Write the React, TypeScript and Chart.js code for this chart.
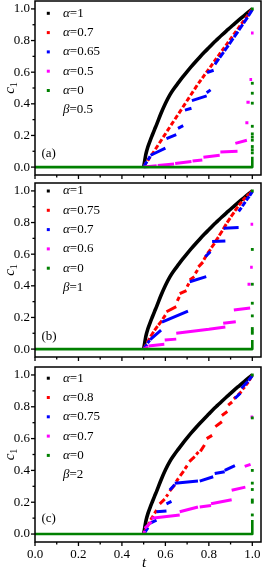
import React, { useEffect, useRef } from 'react';
import { Chart, registerables } from 'chart.js';
Chart.register(...registerables);

// ---------- data ----------
const blackT = [0.500,0.505,0.510,0.520,0.530,0.540,0.550,0.560,0.580,0.600,0.620,0.640,0.660,0.680,0.700,0.720,0.740,0.760,0.780,0.800,0.820,0.840,0.860,0.880,0.900,0.920,0.940,0.960,0.980,1.000];
const blackC = [0.000,0.040,0.080,0.130,0.168,0.203,0.237,0.270,0.340,0.402,0.455,0.497,0.534,0.570,0.604,0.637,0.668,0.698,0.727,0.755,0.783,0.809,0.835,0.860,0.884,0.909,0.932,0.955,0.978,1.000];

// dashes: [t1, c1, t2, c2]
const redA = [
  [0.500,0.000,0.512,0.030],[0.518,0.040,0.530,0.065],[0.536,0.075,0.548,0.100],[0.554,0.113,0.566,0.138],
  [0.572,0.151,0.584,0.176],[0.590,0.189,0.602,0.214],[0.608,0.227,0.620,0.252],[0.626,0.265,0.638,0.290],
  [0.644,0.302,0.656,0.328],[0.662,0.340,0.674,0.365],[0.680,0.378,0.692,0.403],[0.698,0.416,0.710,0.441],
  [0.716,0.454,0.728,0.479],[0.734,0.491,0.746,0.517],[0.752,0.529,0.764,0.552],[0.770,0.563,0.782,0.586],
  [0.788,0.597,0.800,0.620],[0.806,0.631,0.818,0.654],[0.824,0.666,0.836,0.688],[0.842,0.700,0.854,0.723],
  [0.860,0.734,0.872,0.757],[0.878,0.768,0.890,0.791],[0.896,0.802,0.908,0.825],[0.914,0.837,0.926,0.859],
  [0.932,0.871,0.944,0.894],[0.950,0.905,0.962,0.928],[0.968,0.939,0.980,0.962],[0.984,0.970,1.000,1.000],
];
const blueA = [
  [0.500,0.000,0.515,0.035],[0.520,0.045,0.530,0.068],[0.532,0.075,0.600,0.120],[0.605,0.180,0.650,0.205],
  [0.658,0.245,0.682,0.262],[0.690,0.360,0.720,0.372],[0.722,0.420,0.790,0.450],[0.790,0.470,0.808,0.488],
  [0.792,0.598,0.822,0.612],[0.828,0.650,0.846,0.685],[0.850,0.692,0.868,0.727],[0.872,0.735,0.890,0.770],
  [0.894,0.778,0.912,0.813],[0.916,0.822,0.934,0.857],[0.938,0.866,0.956,0.902],[0.960,0.910,0.978,0.946],
  [0.982,0.955,1.000,0.995],
];
const magentaA = [
  [0.500,0.000,0.560,0.008],[0.565,0.010,0.640,0.020],[0.645,0.022,0.720,0.035],[0.725,0.038,0.770,0.045],
  [0.775,0.062,0.850,0.075],[0.853,0.096,0.932,0.100],[0.922,0.150,0.975,0.170],[0.968,0.280,0.982,0.280],
  [0.973,0.410,0.988,0.410],[0.987,0.553,0.999,0.553],[0.994,0.847,1.006,0.847],
];
const greenLineT = [0, 1, 1];
const greenLineA = [0, 0, 0.065];
const greenDotsA = [0.09,0.11,0.13,0.17,0.19,0.21,0.258,0.404,0.467,0.53,1.0];
const alphasA = ['1','0.7','0.65','0.5','0'];
const betaA = '0.5';

const redB = [
  [0.500,0.000,0.512,0.030],[0.516,0.040,0.528,0.068],[0.532,0.080,0.546,0.110],[0.550,0.118,0.564,0.145],
  [0.568,0.152,0.584,0.180],[0.588,0.190,0.600,0.215],[0.605,0.236,0.650,0.268],[0.655,0.305,0.664,0.330],
  [0.666,0.350,0.697,0.370],[0.700,0.395,0.708,0.415],[0.712,0.437,0.733,0.458],[0.738,0.479,0.748,0.500],
  [0.752,0.520,0.773,0.550],[0.777,0.565,0.790,0.595],[0.794,0.605,0.808,0.630],[0.812,0.642,0.826,0.668],
  [0.830,0.680,0.844,0.708],[0.848,0.718,0.862,0.748],[0.866,0.758,0.880,0.790],[0.884,0.800,0.898,0.828],
  [0.902,0.838,0.916,0.865],[0.920,0.874,0.934,0.900],[0.938,0.910,0.952,0.932],[0.956,0.940,0.970,0.960],
  [0.974,0.966,0.986,0.982],[0.988,0.985,1.000,1.000],
];
const blueB = [
  [0.500,0.000,0.515,0.030],[0.518,0.038,0.528,0.055],[0.530,0.060,0.580,0.120],[0.584,0.170,0.704,0.240],
  [0.712,0.426,0.788,0.458],[0.784,0.584,0.807,0.616],[0.815,0.680,0.876,0.684],[0.868,0.764,0.937,0.768],
  [0.937,0.870,0.950,0.895],[0.954,0.903,0.968,0.930],[0.972,0.940,0.986,0.965],[0.988,0.970,1.000,0.995],
];
const magentaB = [
  [0.500,0.000,0.520,0.015],[0.522,0.020,0.595,0.030],[0.597,0.057,0.650,0.063],[0.650,0.100,0.800,0.125],
  [0.800,0.126,0.876,0.140],[0.866,0.163,0.924,0.173],[0.915,0.247,0.990,0.260],[0.978,0.410,0.992,0.410],
  [0.990,0.517,1.002,0.517],[0.992,0.790,1.004,0.790],
];
const greenLineB = [0, 0, 0.057];
const greenDotsB = [0.10,0.115,0.13,0.21,0.29,0.41,0.63,1.0];
const alphasB = ['1','0.75','0.7','0.6','0'];
const betaB = '1';

const redC = [
  [0.500,0.000,0.512,0.035],[0.516,0.045,0.528,0.075],[0.532,0.090,0.544,0.115],[0.550,0.130,0.560,0.150],
  [0.574,0.190,0.597,0.220],[0.604,0.235,0.612,0.250],[0.620,0.270,0.643,0.310],[0.650,0.330,0.660,0.350],
  [0.668,0.365,0.684,0.395],[0.690,0.410,0.700,0.430],[0.710,0.455,0.735,0.486],[0.742,0.500,0.752,0.515],
  [0.761,0.520,0.780,0.560],[0.790,0.600,0.815,0.620],[0.830,0.675,0.860,0.706],[0.860,0.745,0.885,0.770],
  [0.889,0.810,0.907,0.830],[0.915,0.850,0.925,0.862],[0.934,0.874,0.950,0.895],[0.955,0.910,0.965,0.925],
  [0.970,0.935,0.982,0.955],[0.986,0.965,1.000,1.000],
];
const blueC = [
  [0.500,0.000,0.520,0.040],[0.528,0.067,0.559,0.088],[0.559,0.140,0.605,0.145],[0.605,0.190,0.628,0.205],
  [0.620,0.277,0.643,0.310],[0.643,0.320,0.750,0.333],[0.758,0.333,0.820,0.360],[0.827,0.380,0.873,0.392],
  [0.873,0.400,0.920,0.430],[0.920,0.853,0.945,0.885],[0.950,0.916,0.980,0.960],[0.982,0.965,1.000,0.995],
];
const magentaC = [
  [0.500,0.000,0.505,0.020],[0.505,0.036,0.536,0.077],[0.536,0.099,0.666,0.120],[0.666,0.140,0.750,0.170],
  [0.758,0.170,0.810,0.180],[0.810,0.190,0.905,0.215],[0.905,0.275,0.968,0.295],[0.965,0.425,0.992,0.438],
  [0.992,0.735,1.004,0.735],
];
const greenLineC = [0, 0, 0.088];
const greenDotsC = [0.12,0.20,0.214,0.28,0.32,0.40,0.73,1.0];
const alphasC = ['1','0.8','0.75','0.7','0'];
const betaC = '2';

const majorTicks = [0, 0.2, 0.4, 0.6, 0.8, 1.0];
const minorTicks = [0.1, 0.3, 0.5, 0.7, 0.9];
const tags = ['(a)', '(b)', '(c)'];

// ---------- styling ----------
const COLORS = { black: '#000000', red: '#ff0000', blue: '#0000ff', magenta: '#ff00ff', green: '#008000' };
const SERIF = "'Liberation Serif', 'Times New Roman', 'DejaVu Serif', serif";

const panels = [
  { tag: tags[0], red: redA, blue: blueA, magenta: magentaA, gLine: greenLineA, gDots: greenDotsA, alphas: alphasA, beta: betaA,
    top: 0, height: 182, xAxisH: 7, showX: false, legendDy: 12.3, tagDy: -14 },
  { tag: tags[1], red: redB, blue: blueB, magenta: magentaB, gLine: greenLineB, gDots: greenDotsB, alphas: alphasB, beta: betaB,
    top: 182, height: 182, xAxisH: 7, showX: false, legendDy: 8, tagDy: -12.5 },
  { tag: tags[2], red: redC, blue: blueC, magenta: magentaC, gLine: greenLineC, gDots: greenDotsC, alphas: alphasC, beta: betaC,
    top: 366, height: 202, xAxisH: 26, showX: true, legendDy: 11.2, tagDy: -15 },
];

function segPoints(segs: number[][]) {
  const pts: any[] = [];
  segs.forEach(([t1, c1, t2, c2]) => {
    pts.push({ x: t1, y: c1 }, { x: t2, y: c2 }, { x: t2, y: null });
  });
  return pts;
}

function makeDecor(p: any) {
  return {
    id: 'decor',
    afterDatasetsDraw(chart: any) {
      const { ctx, chartArea: a, scales } = chart;
      const x = scales.x, y = scales.y;
      ctx.save();
      ctx.strokeStyle = '#000';
      ctx.lineWidth = 1.5;
      ctx.strokeRect(a.left, a.top, a.right - a.left, a.bottom - a.top);
      ctx.lineWidth = 1.3;
      const line = (x1: number, y1: number, x2: number, y2: number) => {
        ctx.beginPath(); ctx.moveTo(x1, y1); ctx.lineTo(x2, y2); ctx.stroke();
      };
      majorTicks.forEach((v) => {
        const px = x.getPixelForValue(v);
        line(px, a.bottom, px, a.bottom + 4);
        const py = y.getPixelForValue(v);
        line(a.left - 4, py, a.left, py);
      });
      minorTicks.forEach((v) => {
        const px = x.getPixelForValue(v);
        line(px, a.bottom, px, a.bottom + 2.5);
        const py = y.getPixelForValue(v);
        line(a.left - 2.5, py, a.left, py);
      });
      ctx.restore();
    },
    afterDraw(chart: any) {
      const { ctx, chartArea: a, scales } = chart;
      const y = scales.y;
      ctx.save();
      ctx.fillStyle = '#000';
      ctx.textBaseline = 'middle';
      const cols = [COLORS.black, COLORS.red, COLORS.blue, COLORS.magenta, COLORS.green];
      const step = 19.3;
      const mx = a.left + 13.3;
      const tx = a.left + 28;
      p.alphas.forEach((al: string, i: number) => {
        const ry = a.top + p.legendDy + i * step;
        ctx.fillStyle = cols[i];
        ctx.fillRect(mx - 1.5, ry - 1.5, 3, 3);
        ctx.fillStyle = '#000';
        ctx.font = `italic 13px ${SERIF}`;
        ctx.textAlign = 'left';
        ctx.fillText('α', tx, ry);
        const w = ctx.measureText('α').width;
        ctx.font = `13px ${SERIF}`;
        ctx.fillText('=' + al, tx + w, ry);
      });
      const by = a.top + p.legendDy + 5 * step;
      ctx.font = `italic 13px ${SERIF}`;
      ctx.fillText('β', tx, by);
      const bw = ctx.measureText('β').width;
      ctx.font = `13px ${SERIF}`;
      ctx.fillText('=' + p.beta, tx + bw, by);
      // panel tag
      ctx.font = `13px ${SERIF}`;
      ctx.fillText(p.tag, a.left + 6.5, y.getPixelForValue(0) + p.tagDy);
      // y title c1
      ctx.save();
      ctx.translate(10, (a.top + a.bottom) / 2);
      ctx.rotate(-Math.PI / 2);
      ctx.textAlign = 'left';
      ctx.textBaseline = 'alphabetic';
      ctx.font = `italic 15px ${SERIF}`;
      const cw = ctx.measureText('c').width;
      ctx.font = `10px ${SERIF}`;
      const sw = ctx.measureText('1').width;
      const start = -(cw + sw) / 2;
      ctx.font = `italic 15px ${SERIF}`;
      ctx.fillText('c', start, 4);
      ctx.font = `10px ${SERIF}`;
      ctx.fillText('1', start + cw, 7);
      ctx.restore();
      // x title
      if (p.showX) {
        ctx.font = `italic 15px ${SERIF}`;
        ctx.textAlign = 'center';
        ctx.textBaseline = 'alphabetic';
        ctx.fillText('t', 144, chart.height - 1);
      }
      ctx.restore();
    },
  };
}

function Panel({ p }: { p: any }) {
  const ref = useRef<HTMLCanvasElement>(null);
  useEffect(() => {
    if (!ref.current) return;
    const font = { family: SERIF, size: 13 };
    const lineDs = (data: any[], color: string, width: number) => ({
      data, showLine: true, spanGaps: false, borderColor: color, backgroundColor: color,
      borderWidth: width, pointRadius: 0, borderCapStyle: 'butt', borderJoinStyle: 'round', tension: 0,
    });
    const chart = new Chart(ref.current, {
      type: 'scatter',
      data: {
        datasets: [
          lineDs(greenLineT.map((t, i) => ({ x: t, y: p.gLine[i] })), COLORS.green, 2.6),
          {
            data: p.gDots.map((c: number) => ({ x: 1.0, y: c })),
            pointStyle: 'rect', pointRadius: 2, borderWidth: 0,
            backgroundColor: COLORS.green, borderColor: COLORS.green, showLine: false,
          },
          lineDs(segPoints(p.magenta), COLORS.magenta, 3),
          lineDs(segPoints(p.blue), COLORS.blue, 3),
          lineDs(segPoints(p.red), COLORS.red, 3),
          { ...lineDs(blackT.map((t, i) => ({ x: t, y: blackC[i] })), COLORS.black, 3.6), cubicInterpolationMode: 'monotone' },
        ] as any,
      },
      options: {
        responsive: false,
        animation: false,
        devicePixelRatio: 1,
        events: [],
        layout: { padding: { top: 1, right: 3, left: 0, bottom: 0 }, autoPadding: false },
        plugins: { legend: { display: false }, tooltip: { enabled: false } },
        scales: {
          x: {
            type: 'linear', min: 0, max: 1.04,
            afterBuildTicks: (s: any) => { s.ticks = majorTicks.map((v) => ({ value: v })); },
            afterFit: (s: any) => { s.height = p.xAxisH; s.paddingLeft = 0; s.paddingRight = 0; },
            grid: { display: false, drawTicks: false },
            border: { display: false },
            ticks: { display: p.showX, padding: 5, font, color: '#000', maxRotation: 0, autoSkip: false,
              callback: (v: any) => Number(v).toFixed(1) },
          },
          y: {
            type: 'linear', min: -0.05, max: 1.05,
            afterBuildTicks: (s: any) => { s.ticks = majorTicks.map((v) => ({ value: v })); },
            afterFit: (s: any) => { s.width = 35; s.paddingTop = 0; s.paddingBottom = 0; },
            grid: { display: false, drawTicks: false },
            border: { display: false },
            ticks: { padding: 5, font, color: '#000', autoSkip: false,
              callback: (v: any) => Number(v).toFixed(1) },
          },
        },
      } as any,
      plugins: [makeDecor(p)],
    });
    return () => chart.destroy();
  }, [p]);
  return (
    <canvas
      ref={ref}
      width={264}
      height={p.height}
      style={{ position: 'absolute', left: 0, top: p.top, width: 264, height: p.height, display: 'block' }}
    />
  );
}

export default function App() {
  return (
    <div style={{ position: 'absolute', left: 0, top: 0, width: 264, height: 568, background: '#fff', overflow: 'hidden' }}>
      {panels.map((p, i) => <Panel key={i} p={p} />)}
    </div>
  );
}
